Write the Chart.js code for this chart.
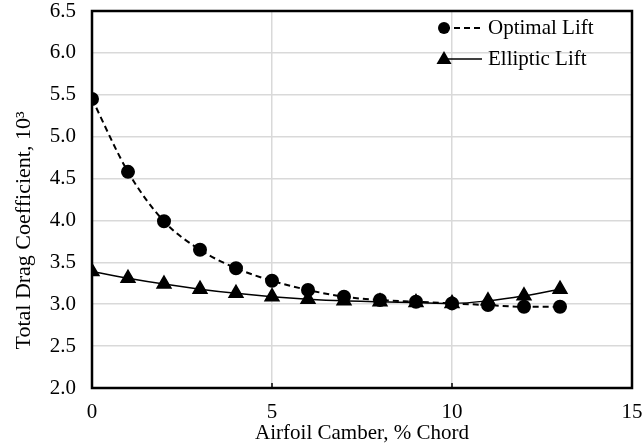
<!DOCTYPE html>
<html>
<head>
<meta charset="utf-8">
<script src="https://cdn.jsdelivr.net/npm/chart.js@4.4.0/dist/chart.umd.min.js"></script>
<style>
  html, body { margin: 0; padding: 0; background: #fff; }
  #wrap { width: 644px; height: 446px; }
</style>
</head>
<body>
<div id="wrap"><canvas id="myChart"></canvas></div>
<script>
// data
const camber = [0, 1, 2, 3, 4, 5, 6, 7, 8, 9, 10, 11, 12, 13]
const optimalLift = [5.45, 4.58, 3.99, 3.65, 3.43, 3.28, 3.17, 3.09, 3.05, 3.03, 3.01, 2.99, 2.97, 2.97]
const ellipticLift = [3.39, 3.31, 3.24, 3.18, 3.13, 3.09, 3.06, 3.04, 3.03, 3.02, 3.01, 3.04, 3.10, 3.18]
const xTicks = [0, 5, 10, 15]
const yRange = [2.0, 6.5]
const seriesNames = ['Optimal Lift', 'Elliptic Lift']
const yTitle = 'Total Drag Coefficient, 10³'

const serif = "'Liberation Serif', 'Times New Roman', serif"
const fontSize = 21

// frame around the plot + small inward tick marks on x axis + y title
const framePlugin = {
  id: 'frame',
  afterDraw(chart) {
    const { ctx, chartArea: a, scales } = chart
    ctx.save()
    ctx.strokeStyle = '#000'
    ctx.lineWidth = 1.5
    xTicks.forEach(v => {
      const px = scales.x.getPixelForValue(v)
      ctx.beginPath()
      ctx.moveTo(px, a.bottom)
      ctx.lineTo(px, a.bottom - 5)
      ctx.stroke()
    })
    ctx.lineWidth = 2.5
    ctx.strokeRect(a.left, a.top, a.right - a.left, a.bottom - a.top)

    // y axis title, sits a bit below the middle like the original
    ctx.translate(24, (a.top + a.bottom) / 2 + 31)
    ctx.rotate(-Math.PI / 2)
    ctx.font = '22px ' + serif
    ctx.fillStyle = '#000'
    ctx.textAlign = 'center'
    ctx.textBaseline = 'middle'
    ctx.fillText(yTitle, 0, 0)
    ctx.restore()
  }
}

// legend with line + marker sample, inside the plot top right
const legendPlugin = {
  id: 'innerLegend',
  afterDraw(chart) {
    const { ctx, chartArea: a } = chart
    ctx.save()
    ctx.font = fontSize + 'px ' + serif
    ctx.textBaseline = 'middle'
    ctx.fillStyle = '#000'
    ctx.strokeStyle = '#000'
    const x0 = a.right - 188
    const rows = [a.top + 17, a.top + 48]
    // optimal
    ctx.lineWidth = 2
    ctx.setLineDash([6, 4])
    ctx.beginPath(); ctx.moveTo(x0, rows[0]); ctx.lineTo(x0 + 38, rows[0]); ctx.stroke()
    ctx.setLineDash([])
    ctx.beginPath(); ctx.arc(x0, rows[0], 6, 0, Math.PI * 2); ctx.fill()
    ctx.fillText(seriesNames[0], x0 + 44, rows[0])
    // elliptic
    ctx.lineWidth = 1.5
    ctx.beginPath(); ctx.moveTo(x0, rows[1]); ctx.lineTo(x0 + 38, rows[1]); ctx.stroke()
    ctx.beginPath()
    ctx.moveTo(x0, rows[1] - 8); ctx.lineTo(x0 + 7.5, rows[1] + 5); ctx.lineTo(x0 - 7.5, rows[1] + 5)
    ctx.closePath(); ctx.fill()
    ctx.fillText(seriesNames[1], x0 + 44, rows[1])
    ctx.restore()
  }
}

const ctx = document.getElementById('myChart')
new Chart(ctx, {
  type: 'line',
  data: {
    datasets: [{
      label: seriesNames[0],
      data: camber.map((c, i) => ({ x: c, y: optimalLift[i] })),
      borderColor: '#000',
      backgroundColor: '#000',
      borderWidth: 2,
      borderDash: [6, 4],
      pointStyle: 'circle',
      pointRadius: 6,
      tension: 0.4,
      cubicInterpolationMode: 'monotone'
    }, {
      label: seriesNames[1],
      data: camber.map((c, i) => ({ x: c, y: ellipticLift[i] })),
      borderColor: '#000',
      backgroundColor: '#000',
      borderWidth: 1.5,
      pointStyle: 'triangle',
      pointRadius: 8,
      tension: 0.4,
      cubicInterpolationMode: 'monotone'
    }]
  },
  options: {
    responsive: true,
    maintainAspectRatio: false,
    animation: false,
    layout: { padding: { top: 11, right: 12, left: 0, bottom: 0 } },
    plugins: {
      legend: { display: false },
      tooltip: { enabled: false }
    },
    scales: {
      x: {
        type: 'linear',
        min: xTicks[0],
        max: xTicks[xTicks.length - 1],
        afterBuildTicks: s => { s.ticks = xTicks.map(v => ({ value: v })) },
        grid: { color: '#d9d9d9', lineWidth: 1.5, drawTicks: false },
        border: { display: false },
        ticks: { color: '#000', font: { family: serif, size: fontSize }, padding: 12, maxRotation: 0 },
        title: { display: true, text: 'Airfoil Camber, % Chord', color: '#000', font: { family: serif, size: fontSize }, padding: { top: -10, bottom: 0 } },
        afterFit: s => { s.height = 58; s.paddingLeft = 0; s.paddingRight = 0 }
      },
      y: {
        min: yRange[0],
        max: yRange[1],
        ticks: { stepSize: 0.5, color: '#000', font: { family: serif, size: fontSize }, padding: 16, callback: v => v.toFixed(1) },
        grid: { color: '#d9d9d9', lineWidth: 1.5, drawTicks: false },
        border: { display: false },
        title: { display: false },
        afterFit: s => { s.width = 92; s.paddingTop = 0; s.paddingBottom = 0 }
      }
    }
  },
  plugins: [framePlugin, legendPlugin]
})
</script>
</body>
</html>
